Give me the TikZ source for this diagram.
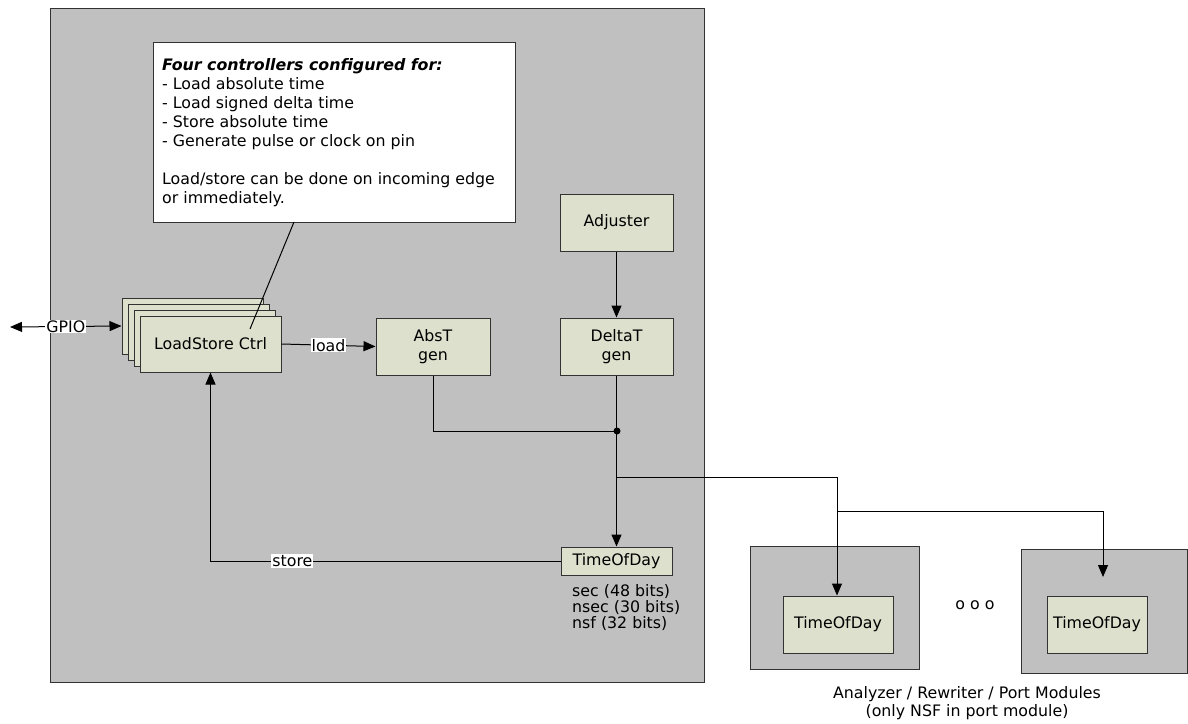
\documentclass[tikz,border=0pt]{standalone}
\usepackage{fontspec}
\setmainfont{DejaVu Sans}
\usetikzlibrary{arrows.meta}
\definecolor{bggray}{RGB}{192,192,192}
\definecolor{boxfill}{RGB}{221,224,204}
\definecolor{edge}{RGB}{50,50,50}
\begin{document}
\begin{tikzpicture}[x=1pt,y=-1pt,
  txt/.style={font=\fontsize{15.8}{19}\selectfont},
  graybox/.style={draw=edge,fill=bggray,line width=1pt,inner sep=0pt},
  blk/.style={draw=edge,fill=boxfill,line width=1pt,inner sep=0pt,align=center,txt},
  conn/.style={line width=1pt,black},
  tip/.tip={Triangle[length=12pt,width=10pt]},
  arr/.style={conn,-tip},
  lbl/.style={fill=white,inner sep=1pt,txt}]
\useasboundingbox (0,0) rectangle (1188,723);
\fill[white] (0,0) rectangle (1188,723);
% main area
\node[graybox,minimum width=654,minimum height=674] (main) at (377,345) {};
% note
\node[draw=edge,fill=white,line width=1pt,minimum width=362,minimum height=180] (note) at (334,132) {};
\node[txt,anchor=north west,align=left,inner sep=0pt] (notetext) at (162,58)
 {\textbf{\textit{Four controllers configured for:}}\\
  - Load absolute time\\
  - Load signed delta time\\
  - Store absolute time\\
  - Generate pulse or clock on pin\\[19pt]
  Load/store can be done on incoming edge\\
  or immediately.};
% stacked LoadStore
\node[blk,minimum width=141,minimum height=56] (ls3) at (192.5,326) {};
\node[blk,minimum width=141,minimum height=56] (ls2) at (198.5,332) {};
\node[blk,minimum width=141,minimum height=56] (ls1) at (204.5,338) {};
\node[blk,minimum width=141,minimum height=56] (ls) at (210.5,344) {LoadStore Ctrl};
% generators
\node[blk,minimum width=114,minimum height=57] (abst) at (433,346.5) {AbsT\\gen};
\node[blk,minimum width=113,minimum height=57] (deltat) at (616.5,346.5) {DeltaT\\gen};
\node[blk,minimum width=113,minimum height=57] (adj) at (616.5,222.5) {Adjuster};
\node[blk,minimum width=111,minimum height=28] (tod) at (616.5,561) {TimeOfDay};
\node[anchor=north west,align=left,inner sep=0pt,font=\fontsize{15.8}{16.2}\selectfont] (bits) at (572,584)
 {sec (48 bits)\\nsec (30 bits)\\nsf (32 bits)};
% modules
\node[graybox,minimum width=169,minimum height=123] (mod1) at (834.5,607.5) {};
\node[blk,minimum width=110,minimum height=57] (tod1) at (838,624.5) {TimeOfDay};
\node[graybox,minimum width=166,minimum height=124] (mod2) at (1104,611) {};
\node[blk,minimum width=100,minimum height=57] (tod2) at (1097,624.5) {TimeOfDay};
\node[txt] (dots) at (975,605) {o o o};
\node[align=center,font=\fontsize{15.8}{18}\selectfont] (caption) at (967,703)
 {Analyzer / Rewriter / Port Modules\\(only NSF in port module)};
% coordinates
\coordinate (gpio) at (10,327);
\coordinate (noteA) at (250,329);
\coordinate (noteB) at (294,222);
\coordinate (j) at (617,431);
\coordinate (b1) at (617,477);
\coordinate (b1r) at (837,477);
\coordinate (b2) at (837,511);
\coordinate (b2r) at (1103,511);
\coordinate (m2end) at (1103,577);
% connectors
\draw[conn,tip-tip] (gpio) -- node[lbl] {GPIO} (ls3.west);
\draw[conn] (noteA) -- (noteB);
\draw[arr] (ls.east) -- node[lbl] {load} (abst.west);
\draw[arr] (adj) -- (deltat);
\draw[conn] (abst.south) |- (j);
\draw[arr] (deltat.south) -- (tod.north);
\fill (j) circle (3.5);
\draw[conn] (b1) -- (b1r);
\draw[arr] (b1r) -- (tod1.north -| b1r);
\draw[conn] (b2) -- (b2r);
\draw[arr] (b2r) -- (m2end);
\draw[arr] (tod.west) -| node[lbl,pos=0.383] {store} (ls.south);
\end{tikzpicture}
\end{document}
